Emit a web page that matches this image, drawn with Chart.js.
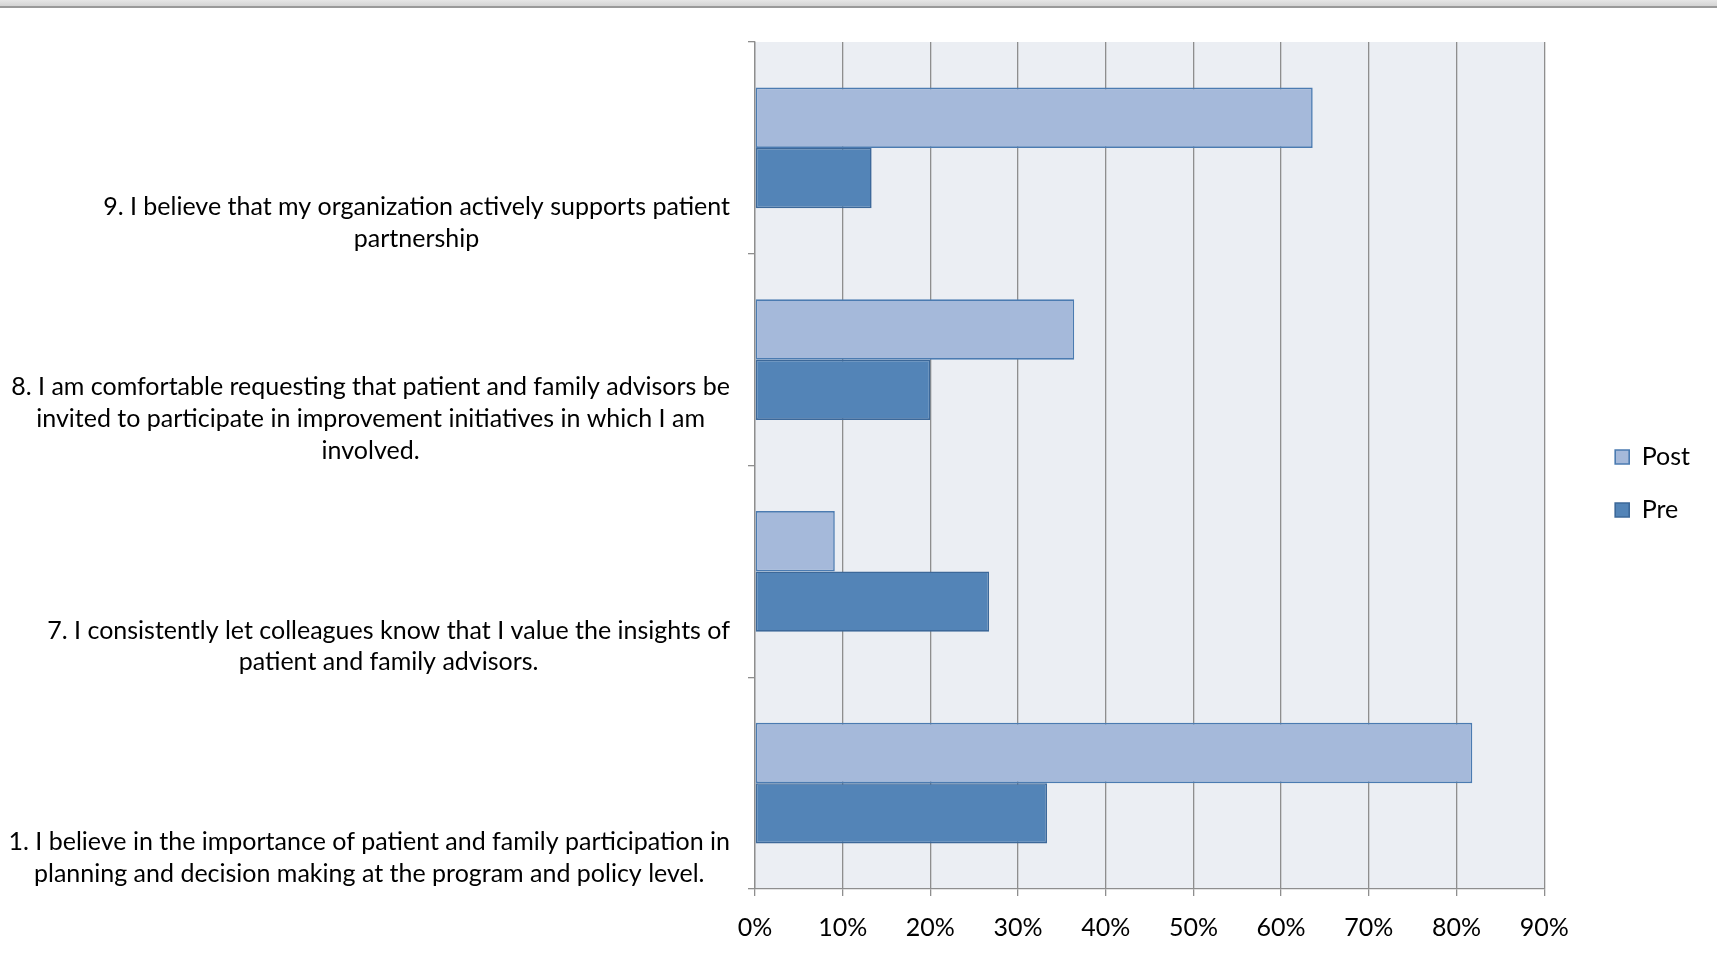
<!DOCTYPE html>
<html>
<head>
<meta charset="utf-8">
<script src="https://cdn.jsdelivr.net/npm/chart.js@4"></script>
<style>
  body { margin: 0; background: #fff; }
  #wrap { position: relative; width: 1717px; height: 954px; }
  #topbar { position: absolute; left: 0; top: 0; width: 1717px; height: 6px;
            background: linear-gradient(#e6e6e6, #d4d4d4); border-bottom: 2px solid #9a9a9a; }
</style>
</head>
<body>
<div id="wrap">
  <canvas id="survey_chart"></canvas>
  <div id="topbar"></div>
</div>
<script>
// questions, top to bottom
var questionLines = [
    ['9. I believe that my organization actively supports patient', 'partnership'],
    ['8. I am comfortable requesting that patient and family advisors be', 'invited to participate in improvement initiatives in which I am', 'involved.'],
    ['7. I consistently let colleagues know that I value the insights of', 'patient and family advisors.'],
    ['1. I believe in the importance of patient and family participation in', 'planning and decision making at the program and policy level.']
];
var seriesNames = ['Post', 'Pre'];
var postData = [63.6, 36.4, 9.1, 81.8];
var preData = [13.3, 20.0, 26.7, 33.3];
var xTicks = [0, 10, 20, 30, 40, 50, 60, 70, 80, 90];

var fontSize = 25;
var labelFont = fontSize + 'px Lato';
var gridGray = '#8e8e8e';

// plot area background
var plotBg = {
    id: 'plotBg',
    beforeDraw: function (chart) {
        var a = chart.chartArea;
        var ctx = chart.ctx;
        ctx.save();
        ctx.fillStyle = '#ebeef3';
        ctx.fillRect(a.left, a.top, a.right - a.left, a.bottom - a.top);
        ctx.restore();
    }
};

// question labels: block right aligned, lines centred, sitting at band bottom
var questionLabels = {
    id: 'questionLabels',
    afterDraw: function (chart) {
        var ctx = chart.ctx;
        var y = chart.scales.y;
        var band = y.getPixelForValue(1) - y.getPixelForValue(0);
        var rightEdge = chart.chartArea.left - 25;
        ctx.save();
        ctx.font = labelFont;
        ctx.fillStyle = '#000';
        ctx.textAlign = 'center';
        ctx.textBaseline = 'middle';
        questionLines.forEach(function (lines, i) {
            var bottom = y.getPixelForValue(i) + band / 2;
            var w = Math.max.apply(null, lines.map(function (l) { return ctx.measureText(l).width; }));
            var cx = rightEdge - w / 2;
            lines.forEach(function (l, j) {
                ctx.fillText(l, cx, bottom - 15 - (lines.length - 1 - j) * 31.75);
            });
        });
        ctx.restore();
    }
};

var ctx = document.getElementById('survey_chart').getContext('2d');
var myChart = new Chart(ctx, {
    type: 'bar',
    data: {
        labels: questionLines.map(function (l) { return l.join(' '); }),
        datasets: [{
            label: seriesNames[0],
            data: postData,
            backgroundColor: '#a5b9da',
            borderColor: '#4b7bb1',
            borderWidth: 1.6,
            borderSkipped: false,
            categoryPercentage: 0.57,
            barPercentage: 1.0
        }, {
            label: seriesNames[1],
            data: preData,
            backgroundColor: '#5384b7',
            borderColor: '#3c6899',
            borderWidth: 1.6,
            borderSkipped: false,
            categoryPercentage: 0.57,
            barPercentage: 1.0
        }]
    },
    options: {
        indexAxis: 'y',
        responsive: true,
        maintainAspectRatio: false,
        animation: false,
        layout: {
            padding: { left: 748, top: 42, right: 17, bottom: -6 }
        },
        plugins: {
            title: { display: false },
            tooltip: { enabled: false },
            legend: {
                display: true,
                position: 'right',
                fullSize: false,
                // empty title only pushes the entries down a little
                title: { display: true, text: '', font: { size: 10 }, padding: { top: 12, bottom: 12 } },
                labels: {
                    color: '#000',
                    boxWidth: 14,
                    boxHeight: 14,
                    padding: 28,
                    font: { family: 'Lato', size: fontSize }
                }
            }
        },
        scales: {
            x: {
                min: 0,
                max: 90,
                afterBuildTicks: function (scale) {
                    scale.ticks = xTicks.map(function (v) { return { value: v }; });
                },
                grid: {
                    color: gridGray,
                    lineWidth: 1.3,
                    tickLength: 7,
                    tickColor: gridGray
                },
                border: { color: gridGray, width: 1.3 },
                ticks: {
                    color: '#000',
                    padding: 17,
                    font: { family: 'Lato', size: fontSize },
                    callback: function (v) { return v + '%'; }
                }
            },
            y: {
                grid: {
                    drawOnChartArea: false,
                    color: gridGray,
                    lineWidth: 1.3,
                    tickLength: 7,
                    offset: true
                },
                border: { color: gridGray, width: 1.3 },
                ticks: { display: false },
                afterFit: function (scale) { scale.width = 7; }
            },
            // empty spacer between plot and legend
            gap: {
                type: 'category',
                axis: 'y',
                position: 'right',
                grid: { display: false },
                border: { display: false },
                ticks: { display: false },
                afterFit: function (scale) { scale.width = 43; }
            }
        }
    },
    plugins: [plotBg, questionLabels]
});
</script>
</body>
</html>
